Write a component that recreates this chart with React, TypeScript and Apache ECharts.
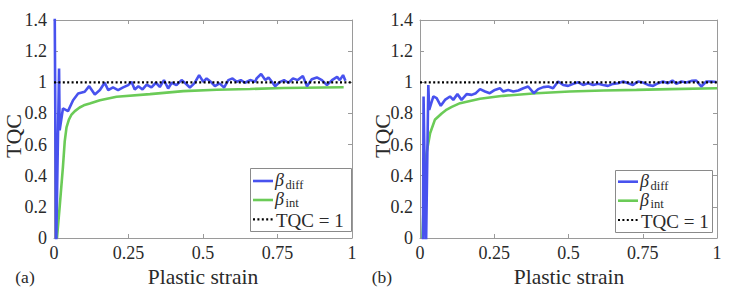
import React, { useEffect, useRef } from "react";
import * as echarts from "echarts";

// ---------- data ----------
const xTickValues = [0, 0.25, 0.5, 0.75, 1];
const yTickValues = [0, 0.2, 0.4, 0.6, 0.8, 1, 1.2, 1.4];

// Panel (a)
const diffA: [number, number][] = [
  [0.002, 1.6], [0.007, -0.1], [0.017, 1.089], [0.019, 0.692], [0.03, 0.832], [0.047, 0.815],
  [0.064, 0.885], [0.081, 0.928], [0.103, 0.939], [0.118, 0.975], [0.137, 0.922], [0.154, 0.95],
  [0.17, 0.997], [0.182, 0.95], [0.198, 0.967], [0.215, 0.95], [0.232, 0.967], [0.249, 0.982],
  [0.26, 1.003], [0.271, 0.954], [0.283, 0.975], [0.297, 0.954], [0.311, 0.985], [0.327, 0.967],
  [0.342, 0.997], [0.355, 0.97], [0.369, 1.014], [0.383, 0.96], [0.395, 0.997], [0.411, 0.982],
  [0.428, 1.014], [0.439, 0.997], [0.456, 0.967], [0.471, 0.993], [0.487, 1.046], [0.501, 1.003],
  [0.512, 1.025], [0.526, 1.003], [0.54, 0.975], [0.555, 0.993], [0.571, 0.967], [0.585, 1.014],
  [0.599, 1.025], [0.613, 1.003], [0.627, 1.014], [0.641, 0.997], [0.658, 1.014], [0.675, 1.003],
  [0.68, 1.025], [0.695, 1.053], [0.709, 1.014], [0.72, 1.031], [0.731, 1.003], [0.742, 0.975],
  [0.759, 1.003], [0.772, 1.014], [0.787, 0.997], [0.802, 1.025], [0.818, 1.014], [0.835, 1.04],
  [0.849, 0.975], [0.865, 1.02], [0.882, 1.031], [0.899, 1.014], [0.916, 0.982], [0.933, 1.014],
  [0.95, 1.035], [0.959, 1.014], [0.97, 1.046], [0.978, 1.01],
];
const intA: [number, number][] = [
  [0.01, 0], [0.019, 0.2], [0.03, 0.457], [0.036, 0.62], [0.042, 0.71], [0.05, 0.76],
  [0.058, 0.79], [0.07, 0.815], [0.086, 0.838], [0.1, 0.852], [0.12, 0.864], [0.154, 0.885],
  [0.21, 0.907], [0.322, 0.924], [0.434, 0.943], [0.546, 0.952], [0.658, 0.957], [0.77, 0.963],
  [0.972, 0.968],
];

// Panel (b)
const diffB: [number, number][] = [
  [0.01, -0.1], [0.012, 0.909], [0.02, -0.1], [0.028, 0.983], [0.031, 0.823], [0.045, 0.909],
  [0.056, 0.898], [0.07, 0.849], [0.084, 0.887], [0.101, 0.909], [0.112, 0.887], [0.126, 0.924],
  [0.14, 0.887], [0.157, 0.924], [0.174, 0.919], [0.188, 0.93], [0.202, 0.956], [0.219, 0.941],
  [0.235, 0.93], [0.252, 0.951], [0.269, 0.962], [0.28, 0.941], [0.297, 0.951], [0.314, 0.941],
  [0.331, 0.947], [0.348, 0.962], [0.364, 0.973], [0.383, 0.93], [0.398, 0.956], [0.415, 0.969],
  [0.432, 0.973], [0.448, 0.962], [0.465, 1.005], [0.482, 0.983], [0.499, 0.977], [0.516, 0.99],
  [0.533, 1.0], [0.549, 0.983], [0.566, 0.994], [0.583, 0.983], [0.6, 0.99], [0.617, 0.983],
  [0.633, 0.977], [0.65, 0.99], [0.667, 0.994], [0.684, 1.005], [0.701, 0.994], [0.717, 0.983],
  [0.734, 1.005], [0.751, 0.998], [0.768, 0.983], [0.785, 0.977], [0.802, 0.994], [0.818, 1.005],
  [0.835, 0.994], [0.85, 1.011], [0.863, 0.99], [0.88, 1.005], [0.897, 0.998], [0.914, 1.009],
  [0.93, 1.011], [0.947, 0.973], [0.964, 1.005], [0.981, 1.005], [0.998, 1.002],
];
const intB: [number, number][] = [
  [0.008, 0], [0.012, 0.2], [0.015, 0.395], [0.022, 0.545], [0.034, 0.673], [0.05, 0.759],
  [0.073, 0.8], [0.09, 0.825], [0.107, 0.842], [0.135, 0.866], [0.202, 0.894], [0.28, 0.913],
  [0.392, 0.93], [0.504, 0.941], [0.617, 0.947], [0.729, 0.951], [0.841, 0.956], [1.0, 0.962],
];

const tqcLine: [number, number][] = [[0, 1], [1, 1]];

const panelLabels = ["(a)", "(b)"];
const xAxisTitle = "Plastic strain";
const yAxisTitle = "TQC";
const legendTqc = "TQC = 1";

// ---------- styles ----------
const FONT = "Liberation Serif";
const BLUE = "#4852EE";
const GREEN = "#6BCB57";
const AXIS = "#9a9a9a";
const TEXT = "#2a2a2a";

const grids = [
  { left: 54, top: 20, width: 298, height: 218 },
  { left: 420, top: 20, width: 297, height: 218 },
];

function xAxes(g: number) {
  const base = {
    gridIndex: g,
    type: "value" as const,
    min: xTickValues[0],
    max: xTickValues[xTickValues.length - 1],
    interval: xTickValues[1] - xTickValues[0],
    splitLine: { show: false },
    axisLine: { show: true, onZero: false, lineStyle: { color: AXIS, width: 1 } },
    axisTick: { show: true, inside: true, length: 4, lineStyle: { color: AXIS } },
  };
  return [
    { ...base, position: "bottom", axisLabel: { show: true, color: TEXT, fontFamily: FONT, fontSize: 18, margin: 6 } },
    { ...base, position: "top", axisLabel: { show: false } },
  ];
}
function yAxes(g: number) {
  const base = {
    gridIndex: g,
    type: "value" as const,
    min: yTickValues[0],
    max: yTickValues[yTickValues.length - 1],
    interval: yTickValues[1] - yTickValues[0],
    splitLine: { show: false },
    axisLine: { show: true, onZero: false, lineStyle: { color: AXIS, width: 1 } },
    axisTick: { show: true, inside: true, length: 4, lineStyle: { color: AXIS } },
  };
  return [
    { ...base, position: "left", axisLabel: { show: true, color: TEXT, fontFamily: FONT, fontSize: 18, margin: 7 } },
    { ...base, position: "right", axisLabel: { show: false } },
  ];
}

function lineSeries(name: string, data: [number, number][], g: number, color: string, dotted = false) {
  return {
    name,
    type: "line" as const,
    xAxisIndex: g * 2,
    yAxisIndex: g * 2,
    data,
    symbol: "none",
    showSymbol: false,
    clip: true,
    lineStyle: dotted
      ? { color: "#000", width: 2.2, type: [2, 2.4] }
      : { color, width: 2.6 },
    z: dotted ? 4 : color === BLUE ? 3 : 2,
  };
}

function legendGraphic(box: { x: number; y: number; w: number; h: number }, lx1: number, lx2: number, rows: number[], tx: number) {
  const els: any[] = [
    { type: "rect", shape: { x: box.x + 0.5, y: box.y + 0.5, width: box.w, height: box.h }, style: { fill: "#fff", stroke: "#8a8a8a", lineWidth: 1 }, z: 10 },
    { type: "line", shape: { x1: lx1, y1: rows[0], x2: lx2, y2: rows[0] }, style: { stroke: BLUE, lineWidth: 2.6 }, z: 11 },
    { type: "line", shape: { x1: lx1, y1: rows[1], x2: lx2, y2: rows[1] }, style: { stroke: GREEN, lineWidth: 2.6 }, z: 11 },
    { type: "line", shape: { x1: lx1, y1: rows[2], x2: lx2, y2: rows[2] }, style: { stroke: "#000", lineWidth: 2.2, lineDash: [2, 2.4] }, z: 11 },
    { type: "text", x: tx, y: rows[0] - 1, style: { text: "β", fontFamily: FONT, fontStyle: "italic", fontSize: 18, fill: TEXT, align: "left", verticalAlign: "middle" }, z: 11 },
    { type: "text", x: tx + 10.5, y: rows[0] + 4, style: { text: "diff", fontFamily: FONT, fontSize: 12.5, fill: TEXT, align: "left", verticalAlign: "middle" }, z: 11 },
    { type: "text", x: tx, y: rows[1] - 1, style: { text: "β", fontFamily: FONT, fontStyle: "italic", fontSize: 18, fill: TEXT, align: "left", verticalAlign: "middle" }, z: 11 },
    { type: "text", x: tx + 10.5, y: rows[1] + 3, style: { text: "int", fontFamily: FONT, fontSize: 12.5, fill: TEXT, align: "left", verticalAlign: "middle" }, z: 11 },
    { type: "text", x: tx + 1, y: rows[2] + 1, style: { text: legendTqc, fontFamily: FONT, fontSize: 19, fill: TEXT, align: "left", verticalAlign: "middle" }, z: 11 },
  ];
  return els;
}

export default function App() {
  const ref = useRef<HTMLDivElement>(null);
  useEffect(() => {
    document.body.style.margin = "0";
    const chart = echarts.init(ref.current!, null, { renderer: "svg" });
    const option: any = {
      animation: false,
      backgroundColor: "#fff",
      textStyle: { fontFamily: FONT },
      grid: grids,
      xAxis: [...xAxes(0), ...xAxes(1)],
      yAxis: [...yAxes(0), ...yAxes(1)],
      series: [
        lineSeries("intA", intA, 0, GREEN),
        lineSeries("diffA", diffA, 0, BLUE),
        lineSeries("tqcA", tqcLine, 0, "#000", true),
        lineSeries("intB", intB, 1, GREEN),
        lineSeries("diffB", diffB, 1, BLUE),
        lineSeries("tqcB", tqcLine, 1, "#000", true),
      ],
      graphic: [
        { type: "text", x: 203, y: 276.5, style: { text: xAxisTitle, fontFamily: FONT, fontSize: 21.5, fill: TEXT, align: "center", verticalAlign: "middle" } },
        { type: "text", x: 569, y: 276.5, style: { text: xAxisTitle, fontFamily: FONT, fontSize: 21.5, fill: TEXT, align: "center", verticalAlign: "middle" } },
        { type: "text", x: 13, y: 136, rotation: Math.PI / 2, style: { text: yAxisTitle, fontFamily: FONT, fontSize: 22, fill: TEXT, align: "center", verticalAlign: "middle" } },
        { type: "text", x: 382, y: 136, rotation: Math.PI / 2, style: { text: yAxisTitle, fontFamily: FONT, fontSize: 22, fill: TEXT, align: "center", verticalAlign: "middle" } },
        { type: "text", x: 25, y: 277, style: { text: panelLabels[0], fontFamily: FONT, fontSize: 17.5, fill: TEXT, align: "center", verticalAlign: "middle" } },
        { type: "text", x: 382, y: 277, style: { text: panelLabels[1], fontFamily: FONT, fontSize: 17.5, fill: TEXT, align: "center", verticalAlign: "middle" } },
        ...legendGraphic({ x: 250, y: 168, w: 101, h: 63 }, 253, 273, [181, 200, 219.3], 275),
        ...legendGraphic({ x: 615, y: 170, w: 97, h: 62 }, 618, 638, [181.7, 200.7, 220], 640),
      ],
    };
    chart.setOption(option);
    return () => chart.dispose();
  }, []);
  return <div ref={ref} style={{ width: 747, height: 289 }} />;
}
